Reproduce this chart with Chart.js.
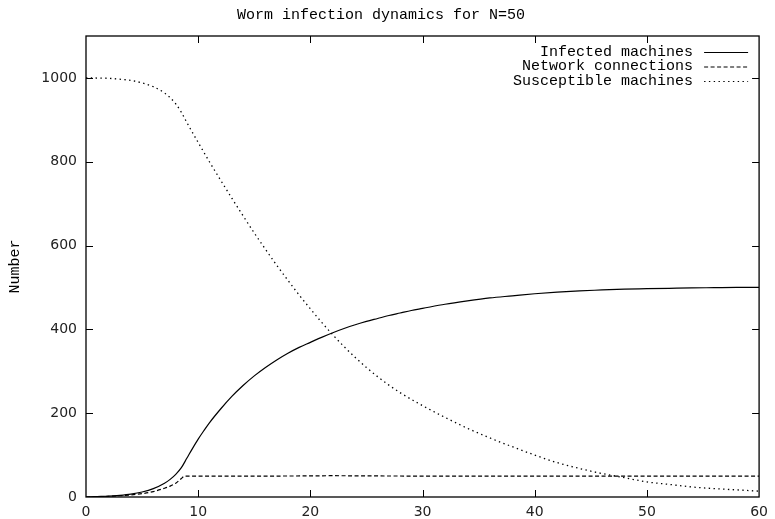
<!DOCTYPE html>
<html>
<head>
<meta charset="utf-8">
<script src="https://cdn.jsdelivr.net/npm/chart.js@4/dist/chart.umd.min.js"></script>
<style>
html,body{margin:0;padding:0;background:#fff;}
#wrap{width:775px;height:519px;}
</style>
</head>
<body>
<div id="wrap"><canvas id="c" width="775" height="519"></canvas></div>
<script>
const titleText = "Worm infection dynamics for N=50";
const yAxisTitle = "Number";
const xTickValues = [0, 10, 20, 30, 40, 50, 60];
const yTickValues = [0, 200, 400, 600, 800, 1000];

const infectedX = [0, 1, 2, 3, 4, 5, 6, 7, 7.5, 8, 8.5, 9, 9.5, 10, 10.5, 11, 12, 13, 14, 15, 16, 17, 18, 19, 20, 21, 22, 23, 24, 25, 26, 27, 28, 29, 30, 32, 34, 36, 38, 40, 42, 44, 46, 48, 50, 52, 54, 56, 58, 60];
const infectedY = [0, 1, 2, 4, 7, 12, 20, 33, 42, 54, 70, 93, 116, 138, 158, 177, 210, 240, 266, 289, 309, 327, 343, 357, 369, 381, 392, 402, 411, 419, 426, 433, 439, 445, 450, 460, 468, 475, 480, 485, 489, 492, 494, 496, 497, 498, 499, 499.5, 500, 500];

const networkX = [0, 1, 2, 3, 4, 5, 6, 7, 7.5, 8, 8.5, 8.8, 10, 15, 20, 22, 25, 30, 40, 50, 60];
const networkY = [0, 0.5, 1.5, 3, 5, 8, 13, 21, 26, 33, 44, 50, 50, 50, 50.3, 50.8, 50.3, 50, 50, 50, 50];

const suscX = [0, 2, 3, 4, 5, 6, 7, 7.5, 8, 8.5, 9, 10, 11, 12, 13, 14, 15, 16, 17, 18, 19, 20, 21, 22, 23, 24, 25, 26, 27, 28, 30, 32, 34, 36, 38, 40, 42, 44, 46, 48, 50, 52, 54, 56, 58, 60];
const suscY = [1000, 999, 997, 994, 988, 979, 964, 953, 938, 918, 893, 846, 800, 756, 713, 671, 630, 591, 553, 517, 482, 449, 417, 387, 359, 333, 309, 287, 267, 249, 218, 190, 164, 141, 120, 100, 82, 68, 56, 46, 36, 30, 24, 20, 17, 14];

const seriesLabels = ["Infected machines", "Network connections", "Susceptible machines"];

function pts(xs, ys){ return xs.map((x,i)=>({x:x, y:ys[i]})); }

const MONO = '"Liberation Mono", "DejaVu Sans Mono", monospace';
const SANS = '"DejaVu Sans", sans-serif';

const dashes = [[], [4, 2.5], [1.4, 3.4]];

const framePlugin = {
  id: 'frame',
  afterDatasetsDraw(chart){
    const ctx = chart.ctx, a = chart.chartArea;
    const xs = chart.scales.x, ys = chart.scales.y;
    ctx.save();
    ctx.strokeStyle = '#000';
    ctx.lineWidth = 1.3;
    ctx.setLineDash([]);
    ctx.strokeRect(a.left, a.top, a.right - a.left, a.bottom - a.top);
    ctx.lineWidth = 1;
    const tl = 7;
    ctx.beginPath();
    xTickValues.forEach(v=>{
      const px = Math.round(xs.getPixelForValue(v)) + 0.5;
      if (v !== xTickValues[0] && v !== xTickValues[xTickValues.length-1]) {
        ctx.moveTo(px, a.bottom); ctx.lineTo(px, a.bottom - tl);
        ctx.moveTo(px, a.top); ctx.lineTo(px, a.top + tl);
      }
    });
    yTickValues.forEach(v=>{
      const py = Math.round(ys.getPixelForValue(v)) + 0.5;
      if (v !== yTickValues[0]) {
        ctx.moveTo(a.left, py); ctx.lineTo(a.left + tl, py);
        ctx.moveTo(a.right, py); ctx.lineTo(a.right - tl, py);
      }
    });
    ctx.stroke();

    // legend
    ctx.font = '15px ' + MONO;
    ctx.fillStyle = '#000';
    ctx.textAlign = 'right';
    ctx.textBaseline = 'middle';
    const textRight = a.right - 66, lx0 = a.right - 55, lx1 = a.right - 11;
    const rowY = [a.top + 16, a.top + 30.5, a.top + 45];
    chart.data.datasets.forEach((ds, i)=>{
      ctx.fillText(ds.label, textRight, rowY[i]);
      ctx.beginPath();
      ctx.setLineDash(dashes[i]);
      ctx.lineWidth = 1.2;
      ctx.moveTo(lx0, rowY[i] + 0.5); ctx.lineTo(lx1, rowY[i] + 0.5);
      ctx.stroke();
    });
    ctx.restore();
  }
};

new Chart(document.getElementById('c'), {
  type: 'line',
  data: {
    datasets: [
      { label: seriesLabels[0], data: pts(infectedX, infectedY), borderColor: '#000', borderWidth: 1.2, borderDash: dashes[0], pointRadius: 0, cubicInterpolationMode: 'monotone', fill: false },
      { label: seriesLabels[1], data: pts(networkX, networkY), borderColor: '#000', borderWidth: 1.2, borderDash: dashes[1], pointRadius: 0, cubicInterpolationMode: 'monotone', fill: false },
      { label: seriesLabels[2], data: pts(suscX, suscY), borderColor: '#000', borderWidth: 1.3, borderDash: dashes[2], pointRadius: 0, cubicInterpolationMode: 'monotone', fill: false }
    ]
  },
  options: {
    responsive: false,
    animation: false,
    layout: { padding: { left: 0, right: 13, top: 0, bottom: 0 } },
    plugins: {
      legend: { display: false },
      tooltip: { enabled: false },
      title: {
        display: true,
        text: titleText,
        color: '#000',
        font: { family: MONO, size: 15, weight: 'normal', lineHeight: 1.2 },
        padding: { top: 6, bottom: 12 }
      }
    },
    scales: {
      x: {
        type: 'linear',
        min: 0, max: 60,
        afterBuildTicks(s){ s.ticks = xTickValues.map(v=>({value:v})); },
        afterFit(s){ s.height = 22; },
        grid: { display: false, drawTicks: false },
        border: { display: false },
        ticks: { color: '#222', font: { family: SANS, size: 14 }, padding: 7, maxRotation: 0, autoSkip: false, callback: v => String(v) }
      },
      y: {
        type: 'linear',
        min: 0, max: 1100,
        afterBuildTicks(s){ s.ticks = yTickValues.map(v=>({value:v})); },
        afterFit(s){ s.width = 86; },
        grid: { display: false, drawTicks: false },
        border: { display: false },
        title: { display: true, text: yAxisTitle, color: '#000', font: { family: MONO, size: 15, lineHeight: 1.2 }, padding: { top: 6, bottom: 0 } },
        ticks: { color: '#222', font: { family: SANS, size: 14 }, padding: 9, autoSkip: false, callback: v => String(v) }
      }
    }
  },
  plugins: [framePlugin]
});
</script>
</body>
</html>
